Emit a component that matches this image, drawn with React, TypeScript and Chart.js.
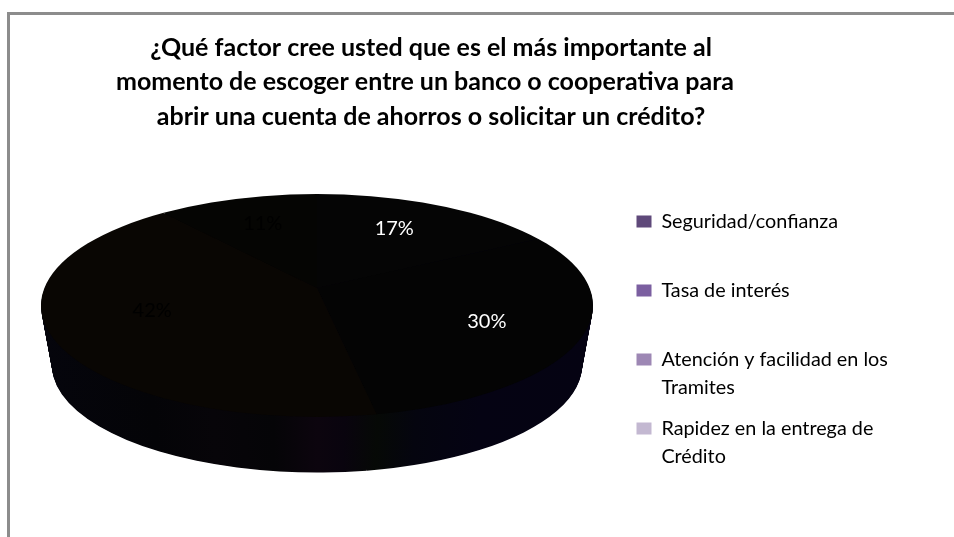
import React, { useEffect, useRef } from "react";
import { Chart, registerables } from "chart.js";

Chart.register(...registerables);

const titleLines = [
  "  ¿Qué factor cree usted que es el más importante al",
  "momento de escoger entre un banco o cooperativa para",
  "  abrir una cuenta de ahorros o solicitar un crédito?",
];
const categories = ["Seguridad/confianza", "Tasa de interés", "Atención y facilidad en los Tramites", "Rapidez en la entrega de Crédito"];
const legendLines = [["Seguridad/confianza", ""], ["Tasa de interés", ""], ["Atención y facilidad en los", "Tramites"], ["Rapidez en la entrega de", "Crédito"]];
const values = [17, 30, 42, 11];
const sliceColors = ["#050505", "#040404", "#090603", "#050503"];
const legendColors = ["#5f497a", "#7b5fa0", "#9d87b4", "#c3b8d1"];
const labelColors = ["#ffffff", "#ffffff", "#000000", "#000000"];
const labelReach = [0.55, 0.68, 0.66, 0.58];
const labelLift = [-24, -16, -26, -21];
const sideStops: [number, string][] = [
  [0, "#05050c"], [0.2, "#040407"], [0.31, "#070509"], [0.42, "#050507"], [0.5, "#0c050e"],
  [0.55, "#09040e"], [0.61, "#060906"], [0.68, "#05050f"], [0.8, "#050313"], [1, "#050312"],
];

const PIE = { cx: 317, cy: 305.5, rx: 276, ry: 111.5, apexY: 288, depth: 60, taper: 0.04, over: 1.4 };

const pie3d = {
  id: "pie3d",
  afterLayout(chart: any) {
    const t = chart.titleBlock;
    t.left = 75; t.right = 775;
    const l = chart.legend;
    const pad = l.options.labels.padding;
    l.left = 636.5 - pad; l.right = 950; l.top = 211.5 - pad; l.bottom = 537;
  },
  beforeDatasetsDraw(chart: any) {
    const ctx = chart.ctx;
    const arcs = chart.getDatasetMeta(0).data;
    const { x, y, outerRadius: R } = arcs[0];
    const sx = PIE.rx / R, sy = PIE.ry / R;
    const grad = ctx.createLinearGradient(x - R, 0, x + R, 0);
    sideStops.forEach(([o, c]) => grad.addColorStop(o, c));
    for (let d = PIE.depth; d >= 1; d--) {
      const k = 1 - (PIE.taper * d) / PIE.depth;
      ctx.save();
      ctx.translate(PIE.cx, PIE.cy + d);
      ctx.scale(sx * k, sy * k);
      ctx.translate(-x, -y);
      arcs.forEach((a: any) => {
        const ghost = Object.create(a);
        ghost.options = { ...a.options, backgroundColor: grad };
        ghost.draw(ctx);
      });
      ctx.restore();
    }
    // Top face: slices meet at the perspective apex, cut by the rim ellipse.
    ctx.save();
    ctx.beginPath();
    ctx.ellipse(PIE.cx, PIE.cy, PIE.rx, PIE.ry, 0, 0, Math.PI * 2);
    ctx.clip();
    ctx.translate(PIE.cx, PIE.apexY);
    ctx.scale(sx * PIE.over, sy * PIE.over);
    ctx.translate(-x, -y);
  },
  afterDatasetsDraw(chart: any) {
    const ctx = chart.ctx;
    ctx.restore();
    const arcs = chart.getDatasetMeta(0).data;
    ctx.save();
    ctx.font = "20px Lato";
    ctx.textAlign = "center";
    ctx.textBaseline = "middle";
    arcs.forEach((a: any, i: number) => {
      const mid = (a.startAngle + a.endAngle) / 2;
      const px = PIE.cx + PIE.rx * labelReach[i] * Math.cos(mid);
      const py = PIE.cy + PIE.ry * labelReach[i] * Math.sin(mid) + labelLift[i];
      ctx.fillStyle = labelColors[i];
      ctx.fillText(`${values[i]}%`, px, py);
    });
    ctx.restore();
  },
};

export default function App() {
  const ref = useRef<HTMLCanvasElement>(null);
  useEffect(() => {
    const chart = new Chart(ref.current!, {
      type: "pie",
      data: {
        labels: categories,
        datasets: [{ data: values, backgroundColor: sliceColors, borderWidth: 0, clip: false } as any],
      },
      options: {
        responsive: false,
        animation: false,
        layout: { padding: { top: 12 } },
        plugins: {
          tooltip: { enabled: false },
          title: {
            display: true,
            text: titleLines,
            color: "#000000",
            font: { family: "Lato", size: 25, weight: "bold", lineHeight: 1.38 },
            padding: { top: 18.5, bottom: 10 },
          },
          legend: {
            display: true,
            position: "right",
            align: "start",
            labels: {
              boxWidth: 15,
              boxHeight: 12,
              padding: 13,
              color: "#000000",
              font: { family: "Lato", size: 19.8, lineHeight: 1.414 },
              generateLabels: () =>
                legendLines.map((text, i) => ({
                  text,
                  fillStyle: legendColors[i],
                  strokeStyle: legendColors[i],
                  lineWidth: 0,
                  hidden: false,
                  index: i,
                })) as any,
            },
          },
        },
      },
      plugins: [pie3d],
    } as any);
    return () => chart.destroy();
  }, []);
  return (
    <div style={{ position: "fixed", left: 0, top: 0, width: 954, height: 537, overflow: "hidden", background: "#ffffff" }}>
      <div style={{ position: "absolute", left: 7, top: 12, right: 0, bottom: 0, borderLeft: "3px solid #8c8c8c", borderTop: "3px solid #8c8c8c" }} />
      <canvas ref={ref} width={954} height={537} style={{ position: "absolute", left: 0, top: 0 }} />
    </div>
  );
}
